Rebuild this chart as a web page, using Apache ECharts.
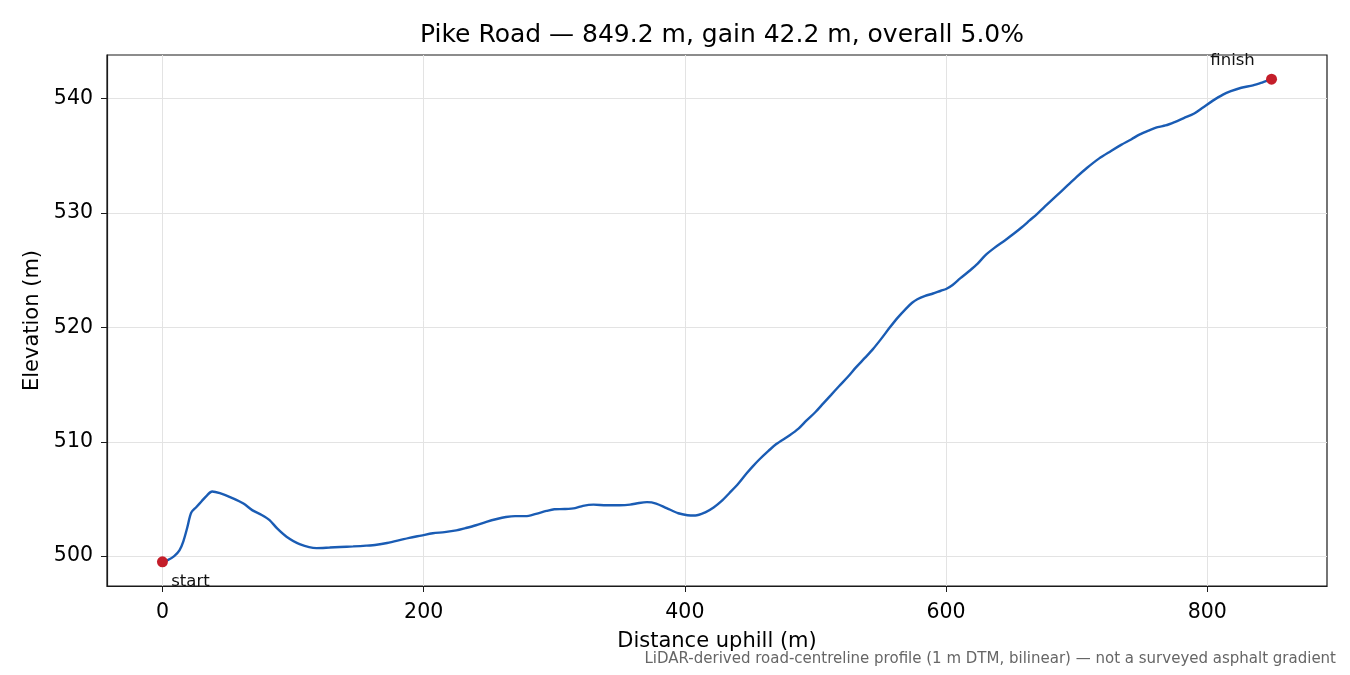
<!DOCTYPE html>
<html>
<head>
<meta charset="utf-8">
<title>Pike Road profile</title>
<script src="https://cdn.jsdelivr.net/npm/echarts@6.0.0/dist/echarts.min.js"></script>
<style>
    html, body { margin: 0; padding: 0; background: #fff; }
    #chart { width: 1350px; height: 675px; }
</style>
</head>
<body>
<div id="chart"></div>
<script type="text/javascript">

    // distance along the road (m) and elevation (m)
    var distance = [0, 4, 9, 13, 16, 19, 22, 26, 30, 34, 38, 44, 54, 62, 69, 76, 82, 88, 95, 105,
        118, 128, 136, 146, 156, 164, 172, 180, 189, 198, 207, 216, 225, 232, 240, 248, 256, 263, 270, 278,
        286, 294, 300, 308, 316, 322, 330, 340, 350, 358, 365, 371, 378, 386, 395, 402, 408, 416, 422, 428,
        434, 441, 447, 452, 457, 464, 470, 480, 487, 493, 500, 506, 512, 518, 525, 531, 538, 544, 550, 557,
        563, 569, 574, 578, 584, 590, 596, 600, 605, 611, 618, 624, 630, 637, 645, 652, 658, 664, 670, 677,
        684, 692, 700, 708, 717, 726, 734, 742, 748, 755, 762, 768, 775, 782, 790, 797, 804, 812, 818, 826,
        835, 842, 849.2];
    var elevation = [499.5, 499.65, 500.0, 500.5, 501.3, 502.5, 503.8, 504.3, 504.8, 505.3, 505.65, 505.5, 505.05, 504.6, 504.0, 503.6, 503.15, 502.4, 501.7, 501.05,
        500.7, 500.75, 500.8, 500.85, 500.92, 501.0, 501.15, 501.35, 501.6, 501.8, 502.0, 502.1, 502.25, 502.45, 502.7, 503.0, 503.25, 503.42, 503.5, 503.5,
        503.7, 503.95, 504.1, 504.12, 504.2, 504.4, 504.5, 504.45, 504.45, 504.5, 504.65, 504.72, 504.6, 504.2, 503.75, 503.58, 503.55, 503.85, 504.25, 504.8,
        505.5, 506.35, 507.2, 507.85, 508.45, 509.2, 509.8, 510.55, 511.15, 511.85, 512.6, 513.35, 514.1, 514.85, 515.7, 516.5, 517.35, 518.1, 518.95, 520.0,
        520.85, 521.6, 522.15, 522.46, 522.75, 522.96, 523.2, 523.35, 523.7, 524.3, 524.95, 525.55, 526.3, 526.95, 527.6, 528.2, 528.75, 529.35, 529.95, 530.7,
        531.45, 532.3, 533.15, 533.95, 534.75, 535.4, 535.95, 536.45, 536.85, 537.2, 537.5, 537.65, 537.95, 538.3, 538.7, 539.25, 539.8, 540.35, 540.65, 540.95,
        541.15, 541.4, 541.7];

    var endLabels = ['start', 'finish'];
    var xTicks = [0, 200, 400, 600, 800];
    var yTicks = [500, 510, 520, 530, 540];

    var profile = [];
    for (var i = 0; i < distance.length; i++) {
        profile.push([distance[i], elevation[i]]);
    }
    var last = distance.length - 1;

    // matplotlib-like 5% margins round the data
    var xPad = (distance[last] - distance[0]) * 0.05;
    var yPad = (elevation[last] - elevation[0]) * 0.05;

    var font = 'DejaVu Sans';
    var myChart = echarts.init(document.getElementById('chart'));

    var option = {
        animation: false,
        backgroundColor: '#ffffff',
        textStyle: { fontFamily: font },
        title: {
            text: 'Pike Road — 849.2 m, gain 42.2 m, overall 5.0%',
            left: 717,
            top: 18,
            textAlign: 'center',
            textStyle: { fontFamily: font, fontSize: 25, fontWeight: 'normal', color: '#000' }
        },
        grid: { left: 107, right: 23, top: 55, bottom: 89, show: true, borderColor: '#1a1a1a', borderWidth: 1.2, backgroundColor: 'transparent' },
        xAxis: {
            type: 'value',
            min: distance[0] - xPad,
            max: distance[last] + xPad,
            name: 'Distance uphill (m)',
            nameLocation: 'middle',
            nameGap: 45,
            nameTextStyle: { fontFamily: font, fontSize: 21, color: '#000' },
            axisLine: { show: true, onZero: false, lineStyle: { color: '#1a1a1a', width: 1.2 } },
            axisTick: { show: true, customValues: xTicks, length: 6, inside: false, lineStyle: { color: '#1a1a1a' } },
            axisLabel: { customValues: xTicks, fontFamily: font, fontSize: 20.5, color: '#000', margin: 16 },
            splitLine: { show: true, lineStyle: { color: '#e3e3e3', width: 1 } }
        },
        yAxis: {
            type: 'value',
            min: elevation[0] - yPad,
            max: elevation[last] + yPad,
            name: 'Elevation (m)',
            nameLocation: 'middle',
            nameGap: 63,
            nameTextStyle: { fontFamily: font, fontSize: 21, color: '#000' },
            axisLine: { show: true, onZero: false, lineStyle: { color: '#1a1a1a', width: 1.2 } },
            axisTick: { show: true, customValues: yTicks, length: 6, inside: false, lineStyle: { color: '#1a1a1a' } },
            axisLabel: { customValues: yTicks, fontFamily: font, fontSize: 20.5, color: '#000', margin: 14 },
            splitLine: { show: true, lineStyle: { color: '#e3e3e3', width: 1 } }
        },
        series: [
            {
                name: 'profile',
                type: 'line',
                data: profile,
                showSymbol: false,
                smooth: 0.3,
                lineStyle: { color: '#1a5cb4', width: 2.4 },
                z: 3
            },
            {
                name: 'ends',
                type: 'scatter',
                symbolSize: 11,
                itemStyle: { color: '#c41e2a', opacity: 1 },
                data: [
                    {
                        value: profile[0],
                        label: { show: true, formatter: endLabels[0], position: 'inside', offset: [28, 20] }
                    },
                    {
                        value: profile[last],
                        label: { show: true, formatter: endLabels[1], position: 'inside', offset: [-39, -18] }
                    }
                ],
                label: { fontFamily: font, fontSize: 16.5, color: '#111' },
                z: 4
            }
        ],
        graphic: [
            {
                type: 'text',
                right: 14,
                top: 652,
                style: {
                    text: 'LiDAR-derived road-centreline profile (1 m DTM, bilinear) — not a surveyed asphalt gradient',
                    font: '15px "DejaVu Sans"',
                    fill: '#666'
                }
            }
        ]
    };
    myChart.setOption(option);
</script>
</body>
</html>
